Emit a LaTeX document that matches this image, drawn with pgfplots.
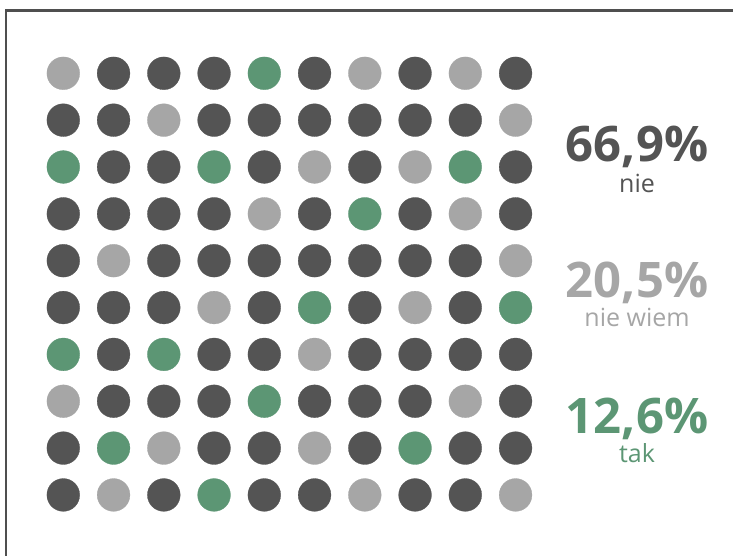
\documentclass[border=0pt]{standalone}
\usepackage{fontspec}
\setmainfont{Open Sans}
\usepackage{pgfplots}
\usepackage{pgfplotstable}
\pgfplotsset{compat=1.18}

\definecolor{darkdot}{HTML}{545454}
\definecolor{lightdot}{HTML}{A6A6A6}
\definecolor{greendot}{HTML}{5C9674}
\definecolor{frame}{HTML}{4F4F4F}

% column, row of every dot (row 1 at the top)
\pgfplotstableread{
c r
2 1
3 1
4 1
6 1
8 1
10 1
1 2
2 2
4 2
5 2
6 2
7 2
8 2
9 2
2 3
3 3
5 3
7 3
10 3
1 4
2 4
3 4
4 4
6 4
8 4
10 4
1 5
3 5
4 5
5 5
6 5
7 5
8 5
9 5
1 6
2 6
3 6
5 6
7 6
9 6
2 7
4 7
5 7
7 7
8 7
9 7
10 7
2 8
3 8
4 8
6 8
7 8
8 8
10 8
1 9
4 9
5 9
7 9
9 9
10 9
1 10
3 10
5 10
6 10
8 10
9 10
}\nie

\pgfplotstableread{
c r
1 1
7 1
9 1
3 2
10 2
6 3
8 3
5 4
9 4
2 5
10 5
4 6
8 6
6 7
1 8
9 8
3 9
6 9
2 10
7 10
10 10
}\niewiem

\pgfplotstableread{
c r
5 1
1 3
4 3
9 3
7 4
6 6
10 6
1 7
3 7
5 8
2 9
8 9
4 10
}\tak

\begin{document}
\begin{tikzpicture}
  \begin{axis}[
    scale only axis,
    width=733pt, height=555pt,
    xmin=-0.2597, xmax=14.327,
    ymin=-0.5646, ymax=11.282,
    y dir=reverse,
    hide axis,
    clip=false,
  ]
    \addplot[only marks, color=darkdot, mark=*, mark size=16.4pt,
      mark options={fill=darkdot, draw=darkdot, line width=0.3pt}] table[x=c, y=r] {\nie};
    \addplot[only marks, color=lightdot, mark=*, mark size=16.4pt,
      mark options={fill=lightdot, draw=lightdot, line width=0.3pt}] table[x=c, y=r] {\niewiem};
    \addplot[only marks, color=greendot, mark=*, mark size=16.4pt,
      mark options={fill=greendot, draw=greendot, line width=0.3pt}] table[x=c, y=r] {\tak};

    % frame
    \draw[frame, line width=2.5pt]
      (axis cs:14.4,-0.343) -- (axis cs:-0.1398,-0.343) -- (axis cs:-0.1398,11.4);

    % labels
    \begin{scope}[every node/.style={anchor=base, inner sep=0pt}]
    \node[text=darkdot, font=\fontsize{49}{49}\selectfont\bfseries]
      at (axis cs:12.417,2.893) {66,9\%};
    \node[text=darkdot, font=\fontsize{25}{25}\selectfont]
      at (axis cs:12.417,3.534) {nie};
    \node[text=lightdot, font=\fontsize{49}{49}\selectfont\bfseries]
      at (axis cs:12.417,5.775) {20,5\%};
    \node[text=lightdot, font=\fontsize{25}{25}\selectfont]
      at (axis cs:12.417,6.394) {nie wiem};
    \node[text=greendot, font=\fontsize{49}{49}\selectfont\bfseries]
      at (axis cs:12.417,8.678) {12,6\%};
    \node[text=greendot, font=\fontsize{25}{25}\selectfont]
      at (axis cs:12.417,9.317) {tak};
    \end{scope}
  \end{axis}
  \pgfresetboundingbox
  \path (current axis.south west) rectangle (current axis.north east);
\end{tikzpicture}
\end{document}
